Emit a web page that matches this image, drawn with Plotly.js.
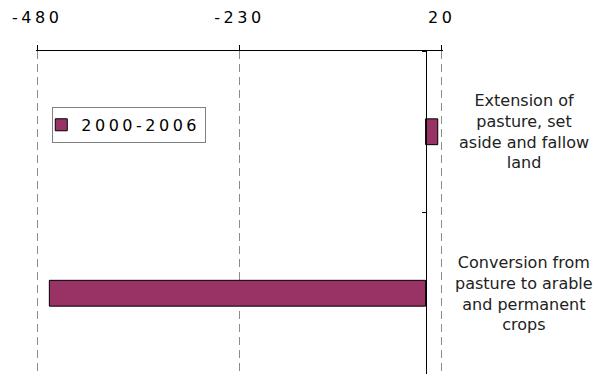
<!DOCTYPE html>
<html>
<head>
<meta charset="utf-8">
<script src="https://cdn.plot.ly/plotly-3.0.1.min.js"></script>
<style>
  html, body { margin: 0; padding: 0; background: #fff; }
  #chart { width: 603px; height: 374px; }
  .xtick text { letter-spacing: 3.5px; }
  .legendtext { letter-spacing: 3.5px; }
</style>
</head>
<body>
<div id="chart"></div>
<script>
const categories = [
  "Extension of pasture, set aside and fallow land",
  "Conversion from pasture to arable and permanent crops"
];
const labels = [
  "Extension of<br>pasture, set<br>aside and fallow<br>land",
  "Conversion from<br>pasture to arable<br>and permanent<br>crops"
];
const seriesName = "2000-2006";
const values = [15, -465];
const tickValues = [-480, -230, 20];

const FONT = 'Verdana, "DejaVu Sans", sans-serif';
const xRange = [-481.5, 21.5];

const trace = {
  type: 'bar',
  orientation: 'h',
  name: seriesName,
  y: categories,
  x: values,
  width: 0.16,
  marker: { color: '#993366', line: { color: '#000000', width: 1 } },
  showlegend: true,
  hoverinfo: 'x+y'
};

const layout = {
  width: 603,
  height: 374,
  margin: { l: 36, r: 160, t: 51, b: 0, pad: 0 },
  paper_bgcolor: '#ffffff',
  plot_bgcolor: '#ffffff',
  font: { family: FONT, color: '#000000', size: 16 },
  showlegend: true,
  legend: {
    x: 0.04, y: 0.827, xanchor: 'left', yanchor: 'top',
    bordercolor: '#808080', borderwidth: 1, bgcolor: '#ffffff',
    indentation: -12,
    font: { family: FONT, size: 16, color: '#000000' },
    itemclick: false
  },
  xaxis: {
    side: 'top',
    range: xRange,
    tickvals: tickValues,
    ticktext: tickValues.map(String),
    ticks: 'outside',
    ticklen: 5,
    tickcolor: '#000000',
    ticklabelstandoff: 16,
    showline: true,
    linecolor: '#000000',
    linewidth: 1,
    showgrid: true,
    gridcolor: '#8c8c8c',
    griddash: '8px,5px',
    gridwidth: 1,
    zeroline: false,
    tickfont: { family: FONT, size: 16, color: '#000000' },
    fixedrange: true
  },
  yaxis: {
    type: 'category',
    categoryorder: 'array',
    categoryarray: categories,
    range: [1.5, -0.5],
    anchor: 'free',
    position: (0 - xRange[0]) / (xRange[1] - xRange[0]),
    showline: true,
    linecolor: '#000000',
    linewidth: 1,
    ticks: 'outside',
    tickson: 'boundaries',
    ticklen: 4,
    tickcolor: '#000000',
    showticklabels: false,
    showgrid: false,
    zeroline: false,
    fixedrange: true
  },
  annotations: categories.map((c, i) => ({
    xref: 'paper', yref: 'y',
    x: 1.2, y: c,
    xanchor: 'center', yanchor: 'middle',
    text: labels[i],
    align: 'center',
    showarrow: false,
    font: { family: FONT, size: 16, color: '#222222' }
  }))
};

Plotly.newPlot('chart', [trace], layout, { displayModeBar: false, staticPlot: true });
</script>
</body>
</html>
